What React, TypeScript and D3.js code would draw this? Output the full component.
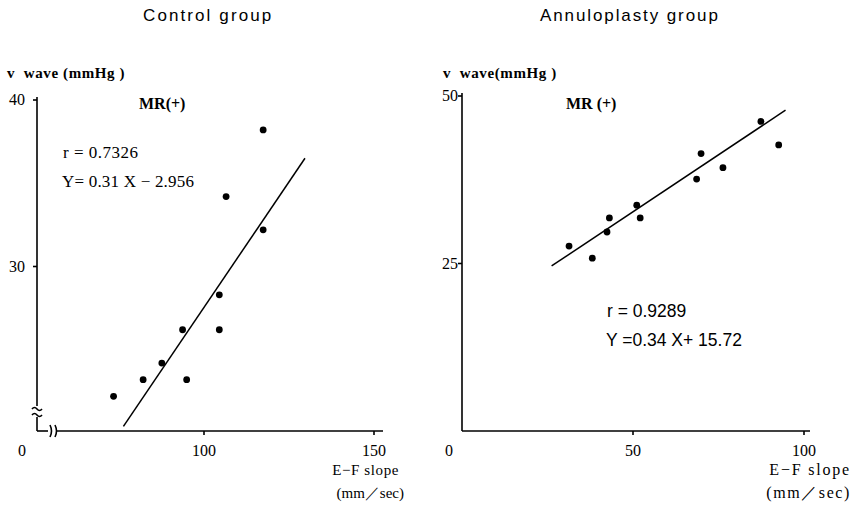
import React from "react";
import * as d3 from "d3";

// ---- data ----
const controlX = [73.4, 82.1, 87.6, 93.7, 94.9, 104.5, 104.5, 106.5, 117.4, 117.4];
const controlY = [22.2, 23.2, 24.2, 26.2, 23.2, 28.3, 26.2, 34.2, 38.2, 32.2];
const controlFitX = [76.3, 129.7];
const controlFitY = [20.4, 36.5];

const annX = [31.3, 38.1, 42.4, 43.1, 51.1, 52.1, 68.6, 69.9, 76.3, 87.4, 92.6];
const annY = [27.6, 25.8, 29.7, 31.8, 33.7, 31.8, 37.6, 41.4, 39.3, 46.2, 42.7];
const annFitX = [26.2, 94.6];
const annSlope = 0.34;
const annIntercept = 15.72;

const controlXTicks = [100, 150];
const controlYTicks = [40, 30];
const annXTicks = [50, 100];
const annYTicks = [50, 25];

const titles = ["Control group", "Annuloplasty group"];
const yLabels = ["v  wave (mmHg )", "v  wave(mmHg )"];
const mrLabels = ["MR(+)", "MR (+)"];
const rLabels = ["r = 0.7326", "r = 0.9289"];
const eqLabels = ["Y= 0.31 X \u2212 2.956", "Y =0.34 X+ 15.72"];
const xLabel1 = "E\u2212F slope";
const xLabel2 = "(mm\uFF0Fsec)";

const serif = "'Liberation Serif', 'DejaVu Serif', serif";
const sans = "'Liberation Sans Narrow', 'Liberation Sans', sans-serif";

export default function App() {
  // Control panel scales
  const xL = d3.scaleLinear().domain([100, 150]).range([204, 374]);
  const yL = d3.scaleLinear().domain([20, 40]).range([433, 100]);
  // Annuloplasty panel scales
  const xR = d3.scaleLinear().domain([0, 100]).range([462, 804]);
  const yR = d3.scaleLinear().domain([0, 50]).range([431, 96]);

  const line = d3.line<[number, number]>().x((d) => d[0]).y((d) => d[1]);

  const ctrlPts = controlX.map((x, i) => [xL(x), yL(controlY[i])] as [number, number]);
  const annPts = annX.map((x, i) => [xR(x), yR(annY[i])] as [number, number]);
  const ctrlFit = controlFitX.map((x, i) => [xL(x), yL(controlFitY[i])] as [number, number]);
  const annFit = annFitX.map((x) => [xR(x), yR(annSlope * x + annIntercept)] as [number, number]);

  const axisY = 431;
  const axL = 37;

  return (
    <svg width={853} height={508} style={{ position: "absolute", left: 0, top: 0, background: "#fff" }}>
      <rect width={853} height={508} fill="#fff" />
      {/* titles */}
      <text x={143} y={21} fontFamily={sans} fontSize={17} letterSpacing={2.1}>{titles[0]}</text>
      <text x={540} y={21} fontFamily={sans} fontSize={17} letterSpacing={1.9}>{titles[1]}</text>

      {/* ===== Control panel ===== */}
      <text x={7} y={78} fontFamily={serif} fontSize={15} fontWeight="bold" letterSpacing={0.6} style={{ whiteSpace: "pre" }}>{yLabels[0]}</text>
      {/* y axis with break */}
      <g stroke="#000" strokeWidth={1.6} fill="none">
        <line x1={axL} y1={97} x2={axL} y2={406} />
        <path d={`M${axL - 5},${409} q2.5,-3 5,0 t5,0`} />
        <path d={`M${axL - 5},${415} q2.5,-3 5,0 t5,0`} />
        <line x1={axL} y1={417} x2={axL} y2={axisY} />
        <line x1={axL} y1={axisY} x2={48} y2={axisY} />
        <path d={`M50,${axisY + 6} q3,-6 0,-12`} />
        <path d={`M55,${axisY + 6} q3,-6 0,-12`} />
        <line x1={57} y1={axisY} x2={383} y2={axisY} />
        {controlYTicks.map((t) => (
          <line key={t} x1={axL - 4} y1={yL(t)} x2={axL} y2={yL(t)} />
        ))}
        {controlXTicks.map((t) => (
          <line key={t} x1={xL(t)} y1={axisY} x2={xL(t)} y2={axisY + 4} />
        ))}
      </g>
      {controlYTicks.map((t) => (
        <text key={t} x={25} y={yL(t) + 5} textAnchor="end" fontFamily={serif} fontSize={16}>{t}</text>
      ))}
      <text x={22} y={456} textAnchor="middle" fontFamily={serif} fontSize={16}>0</text>
      {controlXTicks.map((t) => (
        <text key={t} x={xL(t)} y={456} textAnchor="middle" fontFamily={serif} fontSize={16}>{t}</text>
      ))}
      <text x={399} y={475} textAnchor="end" fontFamily={serif} fontSize={15} letterSpacing={0.6}>{xLabel1}</text>
      <text x={404} y={498} textAnchor="end" fontFamily={serif} fontSize={15}>{xLabel2}</text>
      <text x={139} y={109} fontFamily={serif} fontSize={16} fontWeight="bold">{mrLabels[0]}</text>
      <text x={63} y={158} fontFamily={serif} fontSize={17} letterSpacing={0.5} style={{ whiteSpace: "pre" }}>{rLabels[0]}</text>
      <text x={62} y={187} fontFamily={serif} fontSize={17} letterSpacing={0.2} style={{ whiteSpace: "pre" }}>{eqLabels[0]}</text>
      <path d={line(ctrlFit) || ""} stroke="#000" strokeWidth={1.5} fill="none" />
      {ctrlPts.map((p, i) => (
        <circle key={i} cx={p[0]} cy={p[1]} r={3.4} fill="#000" />
      ))}

      {/* ===== Annuloplasty panel ===== */}
      <text x={443} y={78} fontFamily={serif} fontSize={15} fontWeight="bold" letterSpacing={0.6} style={{ whiteSpace: "pre" }}>{yLabels[1]}</text>
      <g stroke="#000" strokeWidth={1.6} fill="none">
        <line x1={xR(0)} y1={93} x2={xR(0)} y2={axisY} />
        <line x1={xR(0)} y1={axisY} x2={810} y2={axisY} />
        {annYTicks.map((t) => (
          <line key={t} x1={xR(0) - 4} y1={yR(t)} x2={xR(0)} y2={yR(t)} />
        ))}
        {annXTicks.map((t) => (
          <line key={t} x1={xR(t)} y1={axisY} x2={xR(t)} y2={axisY + 4} />
        ))}
      </g>
      {annYTicks.map((t) => (
        <text key={t} x={xR(0) - 4} y={yR(t) + 5} textAnchor="end" fontFamily={serif} fontSize={16}>{t}</text>
      ))}
      <text x={449} y={456} textAnchor="middle" fontFamily={serif} fontSize={16}>0</text>
      {annXTicks.map((t) => (
        <text key={t} x={xR(t)} y={456} textAnchor="middle" fontFamily={serif} fontSize={16}>{t}</text>
      ))}
      <text x={851} y={475} textAnchor="end" fontFamily={serif} fontSize={16} letterSpacing={1.8}>{xLabel1}</text>
      <text x={851} y={498} textAnchor="end" fontFamily={serif} fontSize={16} letterSpacing={1.6}>{xLabel2}</text>
      <text x={566} y={109} fontFamily={serif} fontSize={16} fontWeight="bold" style={{ whiteSpace: "pre" }}>{mrLabels[1]}</text>
      <text x={607} y={317} fontFamily={sans} fontSize={17.5} style={{ whiteSpace: "pre" }}>{rLabels[1]}</text>
      <text x={606} y={346} fontFamily={sans} fontSize={17.5} style={{ whiteSpace: "pre" }}>{eqLabels[1]}</text>
      <path d={line(annFit) || ""} stroke="#000" strokeWidth={1.5} fill="none" />
      {annPts.map((p, i) => (
        <circle key={i} cx={p[0]} cy={p[1]} r={3.4} fill="#000" />
      ))}
    </svg>
  );
}
